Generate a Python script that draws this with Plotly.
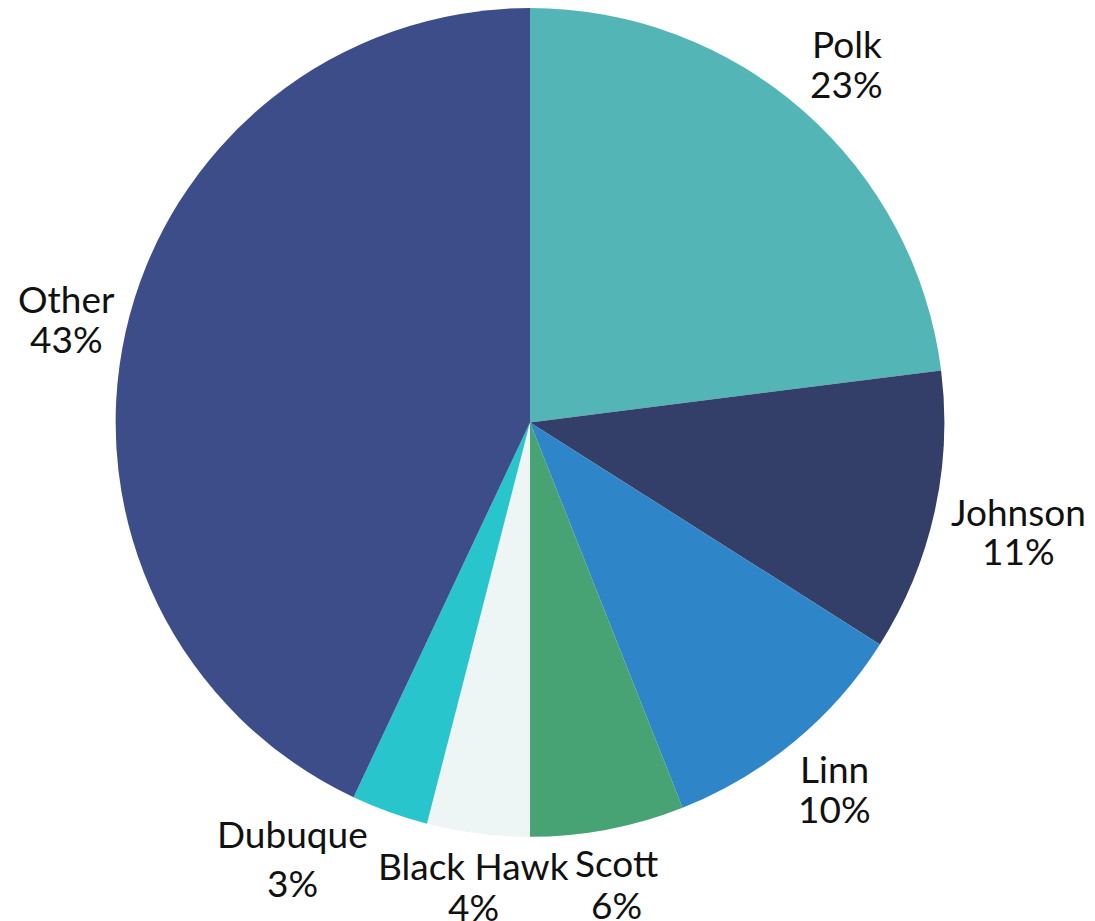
import math
import plotly.graph_objects as go

labels = ["Polk", "Johnson", "Linn", "Scott", "Black Hawk", "Dubuque", "Other"]
values = [23, 11, 10, 6, 4, 3, 43]
colors = ["#54b5b6", "#343f69", "#2e86c8", "#47a374", "#edf5f5", "#28c5cc", "#3d4d8a"]

# label placement styling (pixels) relative to the slice's outer mid-point
label_dx = [42.6, 84, 40.5, 9.2, -4.5, -96.9, -59]
label_dy = [-47.7, 18.5, 46.7, 53.8, 52.5, 46, -13]
line_gap = [40, 39, 40, 42, 41, 49, 40]

W, H = 1095, 921
CX, CY, R = 522.0, 414.25, 414.5  # pie centre / radius in figure pixels

fig = go.Figure(go.Pie(
    labels=labels,
    values=values,
    sort=False,
    direction="clockwise",
    rotation=0,
    marker=dict(colors=colors, line=dict(width=0)),
    textinfo="none",
    hoverinfo="label+percent",
    showlegend=False,
    domain=dict(x=[(CX - R) / W, (CX + R) / W], y=[1 - (CY + R) / H, 1]),
))

total = sum(values)
cum = 0.0
annotations = []
font = dict(family="Lato", size=37, color="#111111")
for lab, v, dx, dy, gap in zip(labels, values, label_dx, label_dy, line_gap):
    mid = (cum + v / 2) / total * 2 * math.pi
    cum += v
    ex = CX + R * math.sin(mid)
    ey = CY - R * math.cos(mid)
    pct = round(100 * v / total)
    for txt, off in ((lab, -gap / 2), (f"{pct}%", gap / 2)):
        annotations.append(dict(
            x=ex / W, y=1 - ey / H, xref="paper", yref="paper",
            xshift=dx, yshift=-(dy + off),
            text=txt, showarrow=False, xanchor="center", yanchor="middle",
            align="center", font=font,
        ))

fig.update_layout(
    width=W,
    height=H,
    margin=dict(l=0, r=0, t=0, b=0),
    paper_bgcolor="white",
    plot_bgcolor="white",
    annotations=annotations,
)

fig.write_html("out.html")
